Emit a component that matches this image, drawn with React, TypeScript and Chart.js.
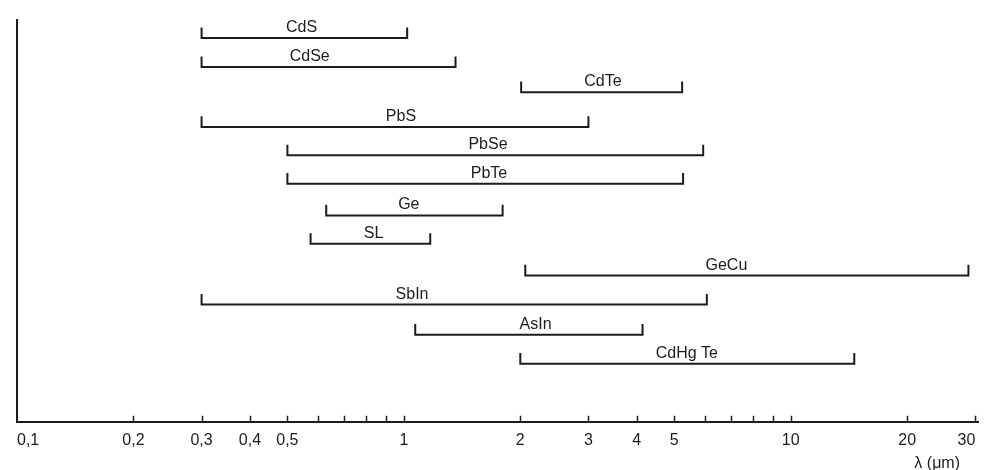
import React, { useEffect, useRef } from 'react';
import { Chart, registerables } from 'chart.js';

Chart.register(...registerables);

// ---- data ----
const materials = ['CdS', 'CdSe', 'CdTe', 'PbS', 'PbSe', 'PbTe', 'Ge', 'SL', 'GeCu', 'SbIn', 'AsIn', 'CdHg Te'];
const rangeStart = [0.3, 0.3, 2.01, 0.3, 0.5, 0.5, 0.63, 0.574, 2.06, 0.3, 1.07, 2.0];
const rangeEnd = [1.02, 1.36, 5.24, 3.0, 5.94, 5.27, 1.8, 1.17, 28.8, 6.07, 4.14, 14.6];
const rowLevel = [0, 0.98, 1.83, 3, 3.96, 4.92, 5.99, 6.95, 8.02, 9, 10.02, 11];
const labelAt = [0.544, 0.571, 3.27, 0.983, 1.65, 1.66, 1.03, 0.835, 6.82, 1.05, 2.19, 5.39];

const tickValues = [0.1, 0.2, 0.3, 0.4, 0.5, 0.6, 0.7, 0.8, 0.9, 1, 2, 3, 4, 5, 6, 7, 8, 9, 10, 20, 30];
const tickLabels = ['0,1', '0,2', '0,3', '0,4', '0,5', '', '', '', '', '1', '2', '3', '4', '5', '', '', '', '', '10', '20', '30'];
const axisMin = 0.1;
const axisMax = 30.67;
const rowMin = -0.61;
const rowMax = 12.96;
const axisTitle = 'λ (μm)';

const INK = '#1c1c1c';
const FONT = '"Liberation Sans", Arial, sans-serif';
const BRACKET_H = 0.36;

const overlay = {
  id: 'overlay',
  afterDatasetsDraw(chart: any) {
    const { ctx, chartArea } = chart;
    const x = chart.scales.x;
    const y = chart.scales.y;
    ctx.save();
    ctx.fillStyle = INK;
    ctx.strokeStyle = INK;
    ctx.font = `16px ${FONT}`;
    ctx.textAlign = 'center';
    ctx.textBaseline = 'alphabetic';
    materials.forEach((m, i) => {
      ctx.fillText(m, x.getPixelForValue(labelAt[i]), y.getPixelForValue(rowLevel[i]) - 6);
    });
    ctx.lineWidth = 1.5;
    tickValues.slice(1).forEach((v) => {
      const px = Math.round(x.getPixelForValue(v)) + 0.5;
      ctx.beginPath();
      ctx.moveTo(px, chartArea.bottom);
      ctx.lineTo(px, chartArea.bottom - 6);
      ctx.stroke();
    });
    ctx.textAlign = 'right';
    ctx.textBaseline = 'middle';
    ctx.fillText(axisTitle, chartArea.right - 19, chartArea.bottom + 42);
    ctx.restore();
  },
};

export default function App() {
  const ref = useRef<HTMLCanvasElement | null>(null);

  useEffect(() => {
    if (!ref.current) return;
    const datasets = materials.map((m, i) => ({
      label: m,
      data: [
        { x: rangeStart[i], y: rowLevel[i] - BRACKET_H },
        { x: rangeStart[i], y: rowLevel[i] },
        { x: rangeEnd[i], y: rowLevel[i] },
        { x: rangeEnd[i], y: rowLevel[i] - BRACKET_H },
      ],
      showLine: true,
      borderColor: INK,
      backgroundColor: INK,
      borderWidth: 2,
      pointRadius: 0,
      fill: false,
      tension: 0,
      borderJoinStyle: 'miter' as const,
    }));

    const chart = new Chart(ref.current, {
      type: 'scatter',
      data: { datasets },
      plugins: [overlay],
      options: {
        animation: false,
        responsive: false,
        events: [],
        layout: { padding: { left: 9, right: 0, top: 12, bottom: 20 } },
        plugins: { legend: { display: false }, tooltip: { enabled: false } },
        scales: {
          x: {
            type: 'logarithmic',
            min: axisMin,
            max: axisMax,
            afterBuildTicks: (scale: any) => {
              scale.ticks = tickValues.map((v) => ({ value: v }));
            },
            grid: {
              display: true,
              drawOnChartArea: false,
              drawTicks: true,
              tickLength: 9,
              color: 'rgba(0,0,0,0)',
            },
            border: { display: true, color: INK, width: 2 },
            ticks: {
              autoSkip: false,
              maxRotation: 0,
              minRotation: 0,
              align: 'inner',
              padding: 0,
              color: INK,
              font: { family: FONT, size: 16 },
              callback: (value: any) => {
                const idx = tickValues.indexOf(Number(value));
                return idx >= 0 ? tickLabels[idx] : '';
              },
            },
          },
          y: {
            type: 'linear',
            reverse: true,
            min: rowMin,
            max: rowMax,
            grid: { display: false, drawTicks: false },
            border: { display: true, color: INK, width: 2 },
            ticks: { display: false },
          },
        },
      },
    });
    return () => chart.destroy();
  }, []);

  return (
    <div style={{ width: 971, height: 462 }}>
      <canvas ref={ref} width={971} height={462} style={{ display: 'block' }} />
    </div>
  );
}
